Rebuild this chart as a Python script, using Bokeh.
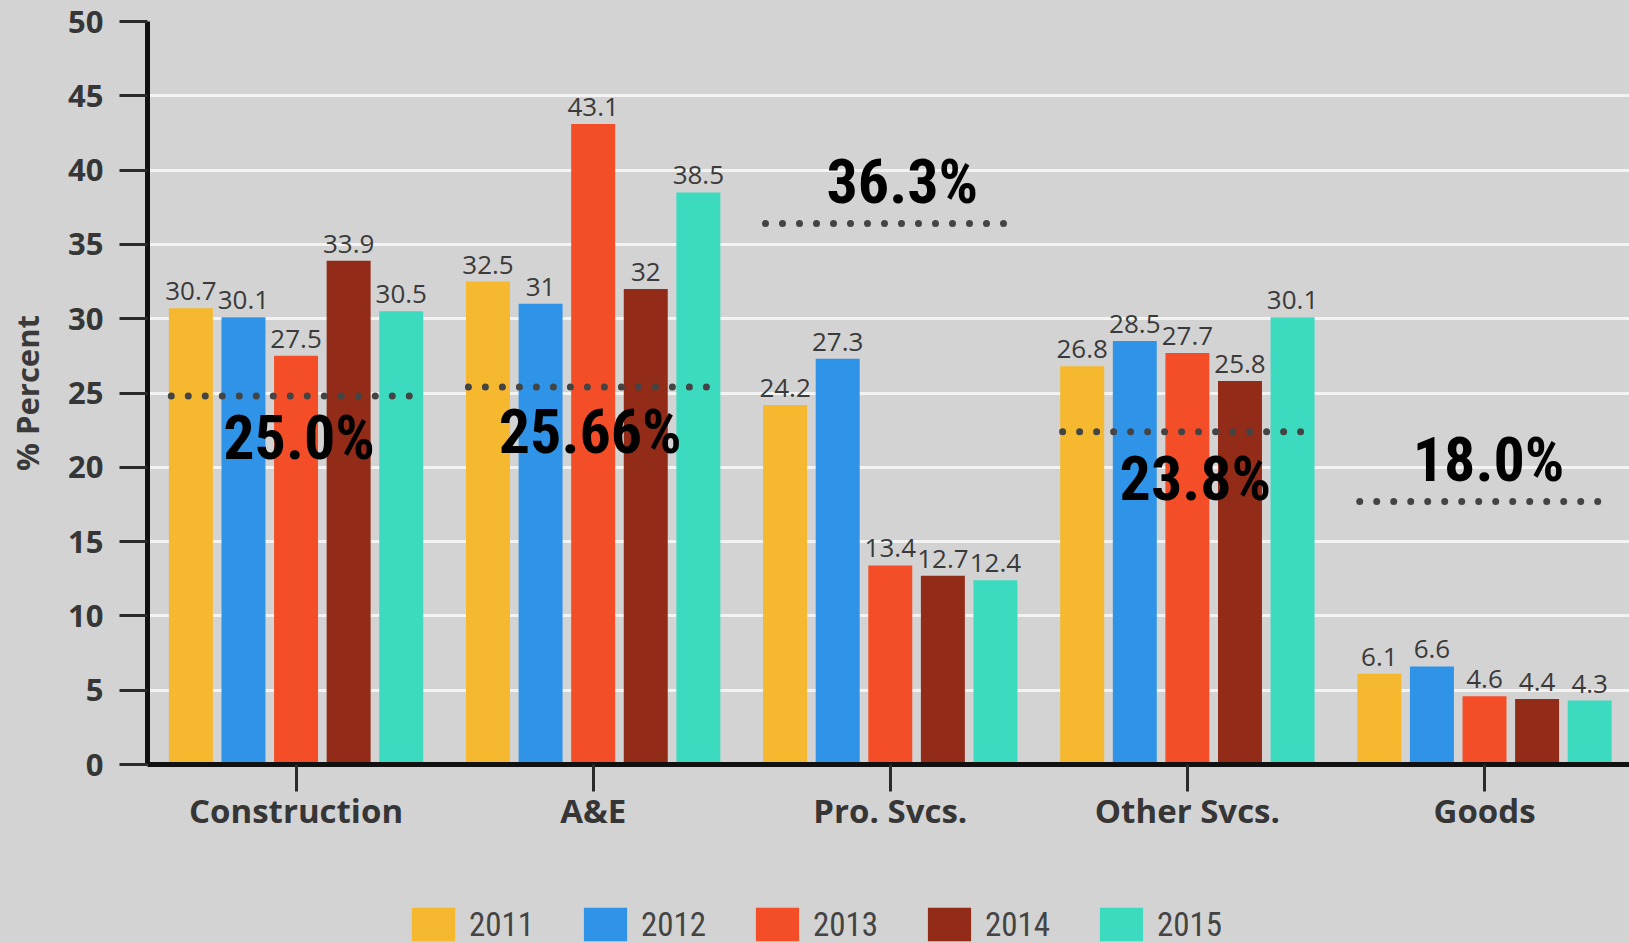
import numpy as np
from bokeh.plotting import figure
from bokeh.layouts import column
from bokeh.models import ColumnDataSource, Range1d, FixedTicker, Legend, LegendItem
from bokeh.transform import dodge
from bokeh.core.properties import value
from bokeh.embed import file_html
from bokeh.resources import INLINE

# ---------------- data ----------------
categories = ["Construction", "A&E", "Pro. Svcs.", "Other Svcs.", "Goods"]
years = ["2011", "2012", "2013", "2014", "2015"]
v2011 = [30.7, 32.5, 24.2, 26.8, 6.1]
v2012 = [30.1, 31.0, 27.3, 28.5, 6.6]
v2013 = [27.5, 43.1, 13.4, 27.7, 4.6]
v2014 = [33.9, 32.0, 12.7, 25.8, 4.4]
v2015 = [30.5, 38.5, 12.4, 30.1, 4.3]
avg_line = [24.8, 25.4, 36.4, 22.4, 17.7]
avg_label = ["25.0%", "25.66%", "36.3%", "23.8%", "18.0%"]
y_ticks = list(range(0, 51, 5))

# ---------------- style ----------------
colors = ["#F5B82E", "#2F94E8", "#F44E28", "#922B17", "#3CDBC0"]
BG = "#d3d3d3"
NARROW = "Liberation Sans Narrow, Roboto Condensed, Roboto"
offsets = [-0.354, -0.177, 0.0, 0.177, 0.354]
bar_w = 0.148
avg_xoff = [3, -3, 12, 8, 4]
avg_yoff = [42, 44, -42, 47, -42]

series = [v2011, v2012, v2013, v2014, v2015]
data = dict(x=list(range(len(categories))), cat=categories)
for yr, vals in zip(years, series):
    data["y" + yr] = vals
    data["t" + yr] = [f"{v:g}" for v in vals]
src = ColumnDataSource(data)

p = figure(width=1629, height=895,
           x_range=Range1d(-0.5, 4.488), y_range=Range1d(0, 50),
           output_backend="svg", toolbar_location=None,
           background_fill_color=BG, border_fill_color=BG,
           min_border_left=147, min_border_right=0,
           min_border_top=21, min_border_bottom=131)
p.outline_line_color = None

# grid
p.xgrid.grid_line_color = None
p.ygrid.grid_line_color = "#f3f3f3"
p.ygrid.grid_line_width = 3
p.ygrid.ticker = FixedTicker(ticks=y_ticks)

# x axis
p.xaxis.ticker = FixedTicker(ticks=list(range(len(categories))))
p.xaxis.major_label_overrides = {i: c for i, c in enumerate(categories)}
p.xaxis.axis_line_width = 5
p.xaxis.axis_line_color = "#111111"
p.xaxis.major_tick_out = 27
p.xaxis.major_tick_in = 0
p.xaxis.major_tick_line_width = 3
p.xaxis.major_tick_line_color = "#2a2a2a"
p.xaxis.minor_tick_line_color = None
p.xaxis.major_label_standoff = -4
p.xaxis.major_label_text_font = "Open Sans"
p.xaxis.major_label_text_font_size = "33px"
p.xaxis.major_label_text_font_style = "bold"
p.xaxis.major_label_text_color = "#363636"

# y axis
p.yaxis.ticker = FixedTicker(ticks=y_ticks)
p.yaxis.axis_line_width = 5
p.yaxis.axis_line_color = "#111111"
p.yaxis.major_tick_out = 28
p.yaxis.major_tick_in = 0
p.yaxis.major_tick_line_width = 3
p.yaxis.major_tick_line_color = "#2a2a2a"
p.yaxis.minor_tick_line_color = None
p.yaxis.major_label_standoff = 16
p.yaxis.major_label_text_font = "Open Sans"
p.yaxis.major_label_text_font_size = "31px"
p.yaxis.major_label_text_font_style = "bold"
p.yaxis.major_label_text_color = "#363636"
p.yaxis.axis_label = "% Percent"
p.yaxis.axis_label_standoff = 17
p.yaxis.axis_label_text_font = "Open Sans"
p.yaxis.axis_label_text_font_size = "31px"
p.yaxis.axis_label_text_font_style = "bold"
p.yaxis.axis_label_text_color = "#3a3a3a"

# bars + value labels
for yr, off, col in zip(years, offsets, colors):
    p.vbar(x=dodge("x", off, range=p.x_range), top="y" + yr, width=bar_w,
           source=src, fill_color=col, line_color=None)
    p.text(x=dodge("x", off, range=p.x_range), y="y" + yr, text="t" + yr, source=src,
           text_align="center", text_baseline="alphabetic", y_offset=-17,
           text_font=value("Open Sans"), text_font_size="26px",
           text_color="#3a3a3a")

# average dotted lines and labels
avg_src = ColumnDataSource(dict(x=list(range(len(categories))), y=avg_line, label=avg_label,
                                xo=avg_xoff, yo=avg_yoff))
p.segment(x0=dodge("x", -0.42, range=p.x_range), x1=dodge("x", 0.42, range=p.x_range),
          y0="y", y1="y", source=avg_src, line_color="#444444", line_width=7,
          line_dash="0 17", line_cap="round")
p.text(x="x", y="y", text="label", source=avg_src, x_offset="xo", y_offset="yo",
       text_align="center", text_baseline="alphabetic",
       text_font=value(NARROW), text_font_size="62px", text_font_style="bold",
       text_color="#000000")

# legend strip (separate figure under the chart)
lg = figure(width=1629, height=48, x_range=Range1d(0, 1), y_range=Range1d(0, 1),
            output_backend="svg", toolbar_location=None,
            x_axis_location=None, y_axis_location=None,
            background_fill_color=BG, border_fill_color=BG,
            background_fill_alpha=0, border_fill_alpha=0,
            min_border_left=147, min_border_right=0, min_border_top=0, min_border_bottom=0)
lg.outline_line_color = None
lg.grid.grid_line_color = None
items = []
for yr, col in zip(years, colors):
    r = lg.vbar(x=[5], top=[0], width=0.1, fill_color=col, line_color=None)
    items.append(LegendItem(label=yr, renderers=[r]))
legend = Legend(items=items, orientation="horizontal", location=(259, -2),
                glyph_width=54, glyph_height=42, label_standoff=9, label_width=100,
                label_height=42, spacing=9, padding=0, margin=0,
                border_line_color=None, background_fill_alpha=0,
                label_text_font=NARROW, label_text_font_size="33px",
                label_text_color="#444444")
lg.add_layout(legend, "center")

layout = column(p, lg, spacing=0, styles={"background-color": BG})
open("out.html", "w").write(file_html(layout, INLINE))
